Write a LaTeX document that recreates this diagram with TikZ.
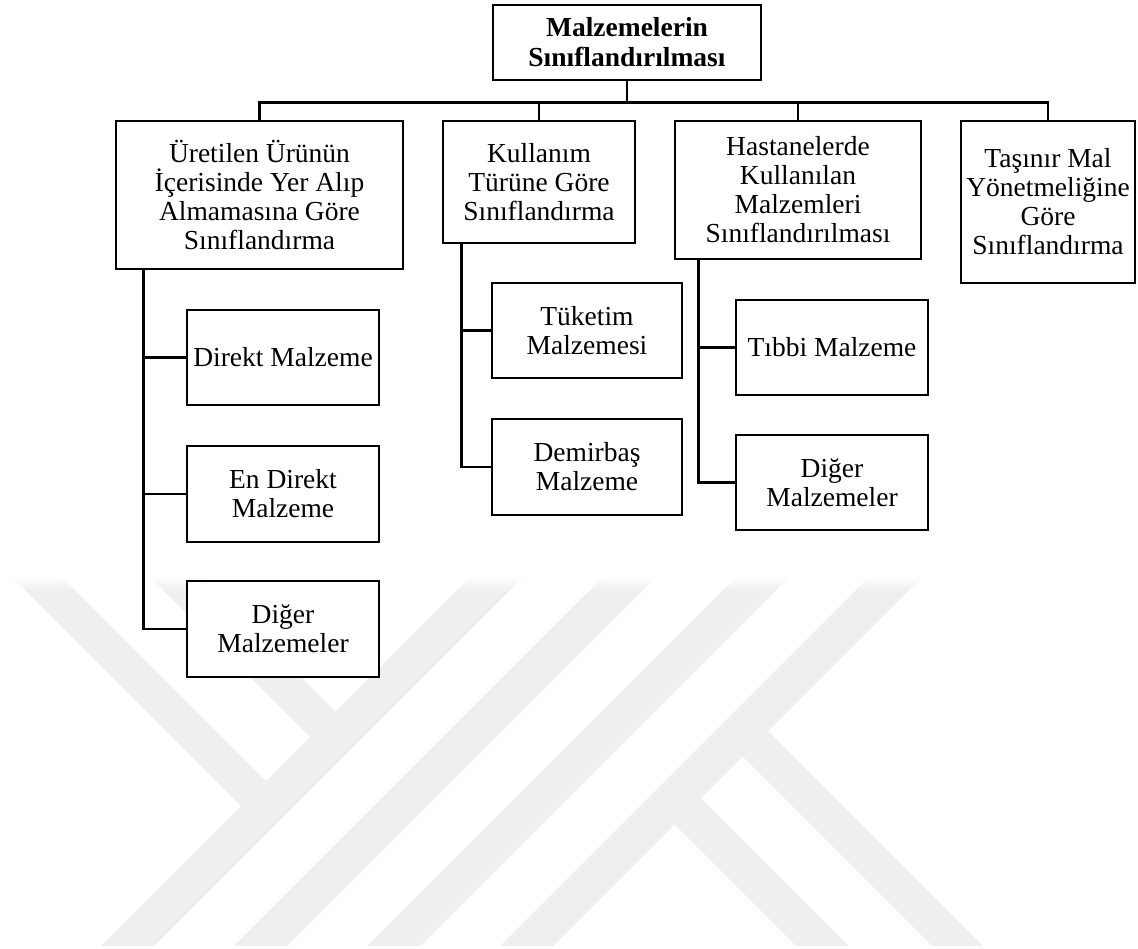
\documentclass[tikz,border=0pt]{standalone}
\usepackage{fontspec}
\setmainfont{Liberation Serif}
\usetikzlibrary{fadings}
\definecolor{wmgray}{RGB}{239,239,239}
\begin{document}
\begin{tikzpicture}[x=1pt,y=1pt,
  box/.style={draw, fill=white, line width=2.6pt, align=center, inner sep=0pt,
    font=\fontsize{27.5}{29}\selectfont},
  conn/.style={line width=2.6pt},
  stripe/.style={fill=wmgray}]
\useasboundingbox (0,0) rectangle (1138,-949);

% faint background emblem made of diagonal bands
\begin{scope}
  \clip (0,-576) rectangle (1138,-945);
  % long rising bands
  \fill[stripe] (471,-576) -- (524,-576) -- (151,-949) -- (98,-949) -- cycle;
  \fill[stripe] (604,-576) -- (657,-576) -- (284,-949) -- (231,-949) -- cycle;
  \fill[stripe] (737,-576) -- (790,-576) -- (417,-949) -- (364,-949) -- cycle;
  \fill[stripe] (870,-576) -- (923,-576) -- (550,-949) -- (497,-949) -- cycle;
  % falling bands ending on the first rising band
  \fill[stripe] (11,-576) -- (61,-576) -- (276,-791) -- (251,-816) -- cycle;
  \fill[stripe] (149,-576) -- (200,-576) -- (345,-721) -- (320,-747) -- cycle;
  % falling bands leaving the last rising band
  \fill[stripe] (732,-746) -- (758,-721) -- (986,-949) -- (935,-949) -- cycle;
  \fill[stripe] (664,-814) -- (691,-788) -- (852,-949) -- (799,-949) -- cycle;
  % soft upper edge
  \fill[white, path fading=south] (0,-575) rectangle (1138,-592);
\end{scope}

% top level
\node[box, font=\fontsize{27.5}{30}\selectfont\bfseries,
      minimum width=268pt, minimum height=75pt] (root) at (627,-42.5)
      {Malzemelerin\\Sınıflandırılması};

% categories
\node[box, minimum width=287pt, minimum height=148pt] (cat1) at (259.5,-195)
      {Üretilen Ürünün\\İçerisinde Yer Alıp\\Almamasına Göre\\Sınıflandırma};
\node[box, minimum width=192pt, minimum height=122pt] (cat2) at (539,-182)
      {Kullanım\\Türüne Göre\\Sınıflandırma};
\node[box, minimum width=246pt, minimum height=138pt] (cat3) at (798,-190)
      {Hastanelerde\\Kullanılan\\Malzemleri\\Sınıflandırılması};
\node[box, minimum width=174pt, minimum height=162pt] (cat4) at (1048,-202)
      {Taşınır Mal\\Yönetmeliğine\\Göre\\Sınıflandırma};

% sub-items
\node[box, minimum width=192pt, minimum height=95pt] (a1) at (283,-357.5) {Direkt Malzeme};
\node[box, minimum width=192pt, minimum height=96pt] (a2) at (283,-494) {En Direkt\\Malzeme};
\node[box, minimum width=192pt, minimum height=96pt] (a3) at (283,-629) {Diğer\\Malzemeler};

\node[box, minimum width=190pt, minimum height=95pt] (b1) at (587,-330.5) {Tüketim\\Malzemesi};
\node[box, minimum width=190pt, minimum height=96pt] (b2) at (587,-467) {Demirbaş\\Malzeme};

\node[box, minimum width=192pt, minimum height=95pt] (c1) at (832,-347.5) {Tıbbi Malzeme};
\node[box, minimum width=192pt, minimum height=95pt] (c2) at (832,-482.5) {Diğer\\Malzemeler};

% bus from the top box to the categories
\draw[conn] (root.south) -- ++(0,-21) coordinate (bus);
\draw[conn] (cat1.north) |- (bus);
\draw[conn] (cat2.north) |- (bus);
\draw[conn] (cat3.north) |- (bus);
\draw[conn] (cat4.north) |- (bus);

% trunks down to the sub-items
\draw[conn] ([xshift=28.5pt]cat1.south west) |- (a1.west);
\draw[conn] ([xshift=28.5pt]cat1.south west) |- (a2.west);
\draw[conn] ([xshift=28.5pt]cat1.south west) |- (a3.west);

\draw[conn] ([xshift=19.5pt]cat2.south west) |- (b1.west);
\draw[conn] ([xshift=19.5pt]cat2.south west) |- (b2.west);

\draw[conn] ([xshift=24.5pt]cat3.south west) |- (c1.west);
\draw[conn] ([xshift=24.5pt]cat3.south west) |- (c2.west);
\end{tikzpicture}
\end{document}
